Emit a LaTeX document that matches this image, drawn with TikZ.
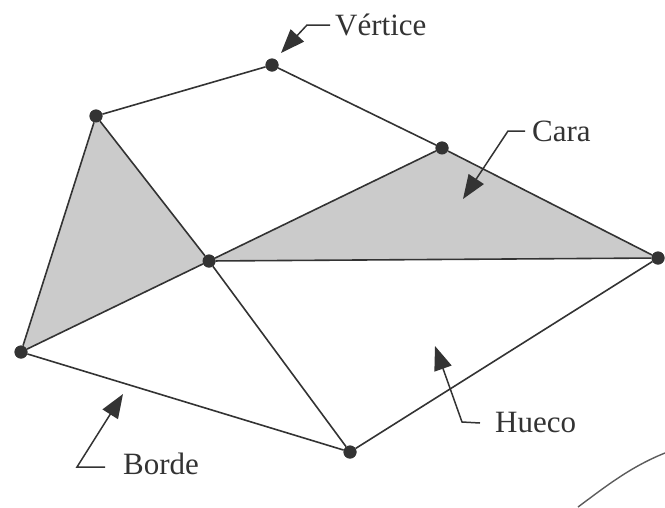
\documentclass[tikz,border=0pt]{standalone}
\usepackage{fontspec}
\setmainfont{Liberation Serif}
\usetikzlibrary{arrows.meta}
\definecolor{ink}{HTML}{333333}
\definecolor{facegray}{HTML}{CBCBCB}
\begin{document}
\begin{tikzpicture}[x=1pt,y=-1pt,
  vtx/.style={circle,fill=ink,inner sep=0pt,minimum size=13pt},
  edge/.style={draw=ink,line width=1.6pt},
  face/.style={fill=facegray},
  lbl/.style={text=ink,font=\fontsize{31}{35}\selectfont,inner sep=0pt},
  leader/.style={draw=ink,line width=1.5pt},
  pointer/.style={leader,-{Triangle[length=24pt,width=18pt]}}]
\useasboundingbox (0,0) rectangle (665,507);
% vertices
\node[vtx] (A) at (272,65) {};
\node[vtx] (B) at (96,116) {};
\node[vtx] (C) at (442,148) {};
\node[vtx] (D) at (209,261) {};
\node[vtx] (E) at (658,258) {};
\node[vtx] (F) at (21,352) {};
\node[vtx] (G) at (350,452) {};
% faces
\fill[face] (B.center) -- (D.center) -- (F.center) -- cycle;
\fill[face] (D.center) -- (C.center) -- (E.center) -- cycle;
% edges
\draw[edge] (B) -- (A);
\draw[edge] (A) -- (C);
\draw[edge] (B) -- (D);
\draw[edge] (B) -- (F);
\draw[edge] (D) -- (F);
\draw[edge] (D) -- (C);
\draw[edge] (C) -- (E);
\draw[edge] (D) -- (E);
\draw[edge] (D) -- (G);
\draw[edge] (F) -- (G);
\draw[edge] (G) -- (E);
\foreach \v in {A,B,C,D,E,F,G} \node[vtx] at (\v) {};
% labels
\node[lbl,anchor=west] (vert) at (335,25) {Vértice};
\node[lbl,anchor=west] (cara) at (532,131) {Cara};
\node[lbl,anchor=west] (hueco) at (495,422) {Hueco};
\node[lbl,anchor=west] (borde) at (123,464) {Borde};
% pointer corners and tips
\coordinate (vk) at (307,25);
\coordinate (vt) at (281,53);
\coordinate (ck) at (508,131);
\coordinate (ct) at (463,199);
\coordinate (hk) at (462,422);
\coordinate (ht) at (435,346);
\coordinate (bk) at (77,467);
\coordinate (bt) at (123,394);
\draw[pointer] ([xshift=-5pt]vert.west) -- (vk) -- (vt);
\draw[pointer] ([xshift=-7pt]cara.west) -- (ck) -- (ct);
\draw[pointer] ([xshift=-15pt,yshift=-1pt]hueco.west) -- (hk) -- (ht);
\draw[pointer] ([xshift=-18pt,yshift=-3pt]borde.west) -- (bk) -- (bt);
% arc at lower right
\coordinate (arcs) at (578,507);
\coordinate (arce) at (665,453);
\draw[draw=ink!80,line width=1.4pt] (arcs) .. controls (605,487) and (630,467) .. (arce);
\end{tikzpicture}
\end{document}
